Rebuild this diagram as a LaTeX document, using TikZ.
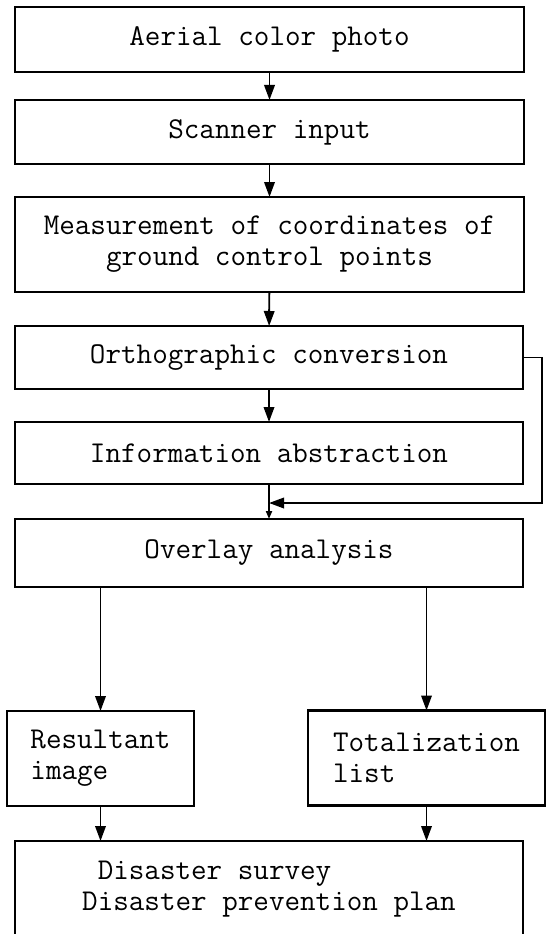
\documentclass[tikz,border=0pt]{standalone}
\usepackage{fontspec}
\usetikzlibrary{arrows.meta}

\begin{document}
\begin{tikzpicture}[font=\ttfamily\fontsize{17.2}{17.6}\selectfont]
% Styles
\tikzset{
box/.style={draw, line width=1.3pt, rectangle, inner sep=0pt, outer sep=0pt, minimum width=10.17cm, align=center},
sidebox/.style={box, minimum height=1.9cm, align=left},
flow/.style={line width=1.1pt, -{Triangle[length=0.3cm, width=0.21cm]}},
mergeflow/.style={line width=1.1pt, -{Triangle[length=0.16cm, width=0.12cm]}}
}
\useasboundingbox (0,0) rectangle (10.94,-18.68);
% Main chain
\node[box, minimum height=1.30cm] (photo) at (5.39,-0.79) {Aerial color photo};
\node[box, minimum height=1.28cm] (scanner) at (5.39,-2.64) {Scanner input};
\node[box, minimum height=1.90cm] (measure) at (5.39,-4.89) {Measurement of coordinates of\\ground control points};
\node[box, minimum height=1.26cm] (ortho) at (5.38,-7.15) {Orthographic conversion};
\node[box, minimum height=1.24cm] (abstract) at (5.38,-9.06) {Information abstraction};
\node[box, minimum height=1.36cm] (overlay) at (5.38,-11.06) {Overlay analysis};
% Outputs
\node[sidebox, minimum width=3.74cm] (resultant) at (2.01,-15.17) {Resultant\\image};
\node[sidebox, minimum width=4.74cm] (total) at (8.53,-15.16) {Totalization\\list};
\node[box, minimum height=1.92cm, align=left] (disaster) at (5.38,-17.78) {\ Disaster survey\\Disaster prevention plan};
% Arrows
\coordinate (merge) at (5.38,-10.06);
\draw[flow] (photo) -- (scanner);
\draw[flow] (scanner) -- (measure);
\draw[flow] (measure) -- (ortho);
\draw[flow] (ortho) -- (abstract);
\draw[mergeflow] (abstract) -- (overlay);
\draw[flow] (ortho.east) -- ++(0.37,0) |- (merge);
\draw[flow] (overlay.south -| resultant.north) -- (resultant.north);
\draw[flow] (overlay.south -| total.north) -- (total.north);
\draw[flow] (resultant.south) -- (resultant.south |- disaster.north);
\draw[flow] (total.south) -- (total.south |- disaster.north);
\end{tikzpicture}
\end{document}
